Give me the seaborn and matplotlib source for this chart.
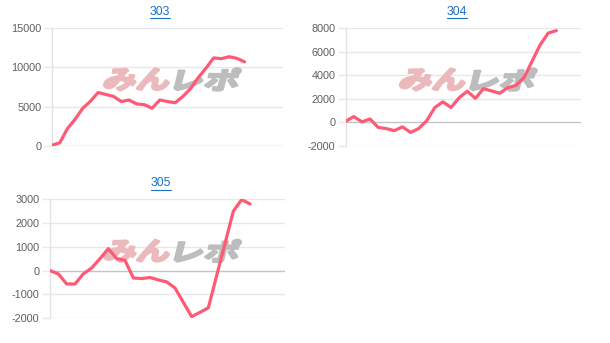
import matplotlib
matplotlib.use("Agg")
import matplotlib.pyplot as plt
from matplotlib.lines import Line2D
from matplotlib.textpath import TextPath
from matplotlib.patches import PathPatch
from matplotlib.font_manager import FontProperties
from matplotlib.transforms import Affine2D, IdentityTransform
import seaborn as sns
import pandas as pd

# ---- data ----
titles = ["303", "304", "305"]
vals_303 = [100, 400, 2200, 3400, 4800, 5700, 6800, 6550, 6300, 5650, 5850, 5350, 5250,
            4800, 5850, 5650, 5500, 6300, 7300, 8700, 9900, 11200, 11100, 11350, 11150, 10700]
vals_304 = [100, 500, 50, 300, -420, -520, -700, -370, -850, -520, 150, 1270, 1750, 1270,
            2100, 2650, 2050, 2870, 2680, 2480, 2960, 3150, 3800, 5200, 6600, 7600, 7800]
vals_305 = [0, -140, -560, -560, -140, 110, 500, 920, 500, 430, -310, -335, -290, -390,
            -475, -730, -1330, -1930, -1750, -1560, -210, 1130, 2490, 2975, 2790]
yticks_303 = [0, 5000, 10000, 15000]
yticks_304 = [-2000, 0, 2000, 4000, 6000, 8000]
yticks_305 = [-2000, -1000, 0, 1000, 2000, 3000]
xmax = [30, 29, 28.2]
watermark = ["みん", "レポ"]

sns.set_theme(style="white")
plt.rcParams['font.family'] = ['Liberation Sans', 'DejaVu Sans', 'Noto Sans CJK JP']

W, H = 610, 343
fig = plt.figure(figsize=(W / 100, H / 100), dpi=100)

# axes boxes in pixels: left, top, right, bottom
boxes = [(52, 28, 283, 146), (345.7, 28.3, 580.7, 146), (50, 199, 285, 318.3)]
title_pos = [(160, 12), (456.7, 12), (161, 183.5)]
series = [vals_303, vals_304, vals_305]
ticks = [yticks_303, yticks_304, yticks_305]

line_color = "#FF5A75"
grid_color = "#E8E8E8"
zero_color = "#C4C4C4"
title_color = "#1A6FC9"
wm_fp = FontProperties(family="Noto Sans CJK JP", weight="bold")


def add_watermark(ax, text, color, x0_px, width_px, height_px):
    tp = TextPath((0, 0), text, size=1, prop=wm_fp)
    ext = tp.get_extents()
    cx, cy = ax.transAxes.transform((0.535, 0.565))
    tr = (Affine2D().translate(-ext.x0, -ext.y0)
          .scale(width_px / ext.width, height_px / ext.height)
          .translate(0, -height_px / 2)
          .skew_deg(14, 0)
          .translate(cx + x0_px, cy))
    patch = PathPatch(tr.transform_path(tp), facecolor=color, edgecolor=color,
                      linewidth=1.8, joinstyle="round",
                      transform=IdentityTransform(), zorder=2)
    ax.add_artist(patch)


title_texts = []
axes = []
for i in range(3):
    l, t, r, b = boxes[i]
    ax = fig.add_axes([l / W, 1 - b / H, (r - l) / W, (b - t) / H])
    axes.append(ax)
    df = pd.DataFrame({"x": range(len(series[i])), "y": series[i]})
    sns.lineplot(data=df, x="x", y="y", ax=ax, color=line_color, linewidth=2.3, zorder=5)
    ax.set_xlim(0, xmax[i])
    ax.set_ylim(ticks[i][0], ticks[i][-1])
    ax.set_yticks(ticks[i])
    ax.set_yticklabels([str(v) for v in ticks[i]])
    ax.set_xticks([])
    ax.set_xlabel("")
    ax.set_ylabel("")
    ax.tick_params(axis="y", left=True, length=6, width=1.0, color=grid_color, pad=1.5,
                   labelsize=7.8, labelcolor="#5F5F5F")
    for v in ticks[i]:
        ax.axhline(v, color=zero_color if v == 0 else grid_color, linewidth=1.0, zorder=1)
    for s in ["top", "right", "bottom"]:
        ax.spines[s].set_visible(False)
    ax.spines["left"].set_color("#E3E3E3")
    ax.spines["left"].set_linewidth(1.0)
    tx, ty = title_pos[i]
    tt = fig.text(tx / W, 1 - ty / H, titles[i], ha="center", va="center",
                  fontsize=8.8, color=title_color)
    title_texts.append(tt)

fig.canvas.draw()
renderer = fig.canvas.get_renderer()
for ax in axes:
    add_watermark(ax, watermark[0], "#EBB9BC", -70, 64, 22)
    add_watermark(ax, watermark[1], "#BDBDBD", 1, 62, 22)

# underline the titles (link style)
for tt in title_texts:
    bb = tt.get_window_extent(renderer)
    y = bb.y0 - 0.3
    fig.add_artist(Line2D([bb.x0 / W, bb.x1 / W], [y / H, y / H], transform=fig.transFigure,
                          color=title_color, linewidth=0.8))

fig.savefig("out.png", dpi=100)
